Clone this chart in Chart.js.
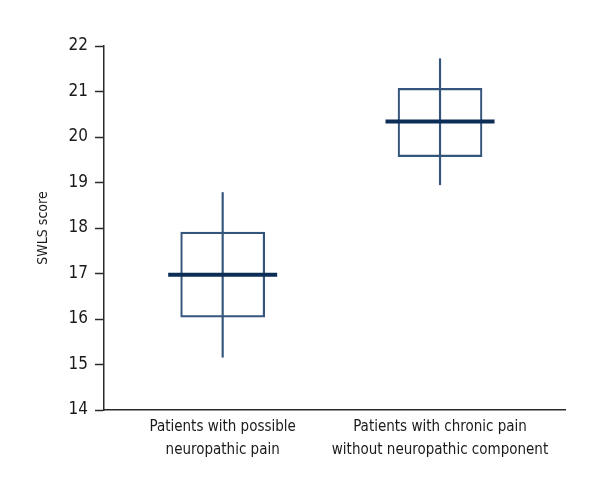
<!DOCTYPE html>
<html>
<head>
<meta charset="utf-8">
<script src="https://cdn.jsdelivr.net/npm/chart.js@4"></script>
<style>
  html, body { margin: 0; padding: 0; background: #fff; }
  #wrap { width: 600px; height: 500px; }
</style>
</head>
<body>
<div id="wrap"><canvas id="chart"></canvas></div>
<script>
// groups on the x axis (positions 1 and 2)
const groups = [
  ["Patients with possible", "neuropathic pain"],
  ["Patients with chronic pain", "without neuropathic component"]
];
const groupPos = [1, 2];

// SWLS score summary per group
const means       = [16.97, 20.34];
const boxLow      = [16.04, 19.57];
const boxHigh     = [17.91, 21.07];
const whiskerLow  = [15.16, 18.95];
const whiskerHigh = [18.78, 21.72];

const yTicks = [14, 15, 16, 17, 18, 19, 20, 21, 22];

const font = "'Liberation Sans Narrow', 'DejaVu Sans Condensed', 'Arial Narrow', sans-serif";
const boxColor = "#34557c";
const meanColor = "#0c2d55";
const axisColor = "#2a2a2a";

new Chart(document.getElementById('chart'), {
  type: 'bar',
  data: {
    datasets: [
      {
        type: 'scatter',
        data: groupPos.map((x, i) => ({ x: x, y: means[i] })),
        pointStyle: 'line',
        pointRadius: 54.5,
        pointHoverRadius: 54.5,
        borderColor: meanColor,
        borderWidth: 4,
        order: 0
      },
      {
        data: groupPos.map((x, i) => ({ x: x, y: [boxLow[i], boxHigh[i]] })),
        backgroundColor: 'rgba(0,0,0,0)',
        borderColor: boxColor,
        borderWidth: 1.5,
        borderSkipped: false,
        barThickness: 84,
        grouped: false,
        order: 1
      },
      {
        data: groupPos.map((x, i) => ({ x: x, y: [whiskerLow[i], whiskerHigh[i]] })),
        backgroundColor: boxColor,
        borderWidth: 0,
        barThickness: 1.5,
        grouped: false,
        order: 2
      }
    ]
  },
  options: {
    responsive: true,
    maintainAspectRatio: false,
    animation: false,
    layout: { autoPadding: false, padding: { top: 46, right: 35, left: 0, bottom: 0 } },
    plugins: {
      legend: { display: false },
      tooltip: { enabled: false }
    },
    scales: {
      x: {
        type: 'linear',
        offset: false,
        min: 0.454,
        max: 2.575,
        afterBuildTicks: scale => { scale.ticks = groupPos.map(v => ({ value: v })); },
        afterFit: scale => { scale.height = 90; },
        grid: { display: false },
        border: { display: true, color: axisColor, width: 1.5 },
        ticks: {
          callback: (v) => groups[groupPos.indexOf(v)],
          color: '#1a1a1a',
          font: { family: font, size: 15, lineHeight: '23px' },
          padding: -2,
          maxRotation: 0,
          autoSkip: false
        }
      },
      y: {
        min: 14,
        max: 22,
        afterBuildTicks: scale => { scale.ticks = yTicks.map(v => ({ value: v })); },
        afterFit: scale => { scale.width = 104; },
        grid: {
          display: true,
          drawOnChartArea: false,
          drawTicks: true,
          tickLength: 9,
          tickColor: axisColor,
          tickWidth: 1.5
        },
        border: { display: true, color: axisColor, width: 1.5 },
        title: {
          display: true,
          text: 'SWLS score',
          color: '#1a1a1a',
          font: { family: font, size: 14 },
          padding: { top: 35, bottom: 0 }
        },
        ticks: {
          color: '#1a1a1a',
          font: { family: font, size: 17 },
          padding: 7
        }
      }
    }
  }
});
</script>
</body>
</html>
